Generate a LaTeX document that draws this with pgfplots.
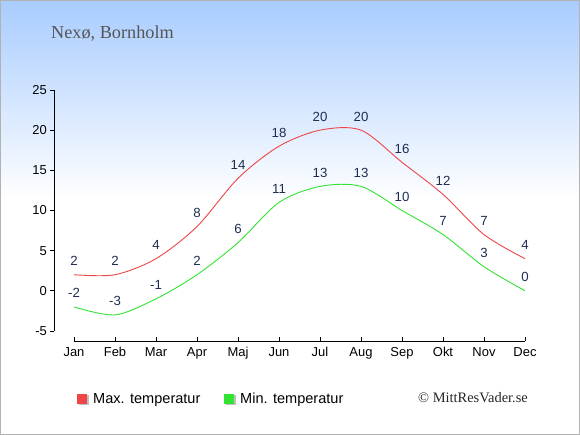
\documentclass[border=0pt]{standalone}
\usepackage{fontspec}
\setmainfont{Liberation Sans}
\newfontfamily\seriffont{Liberation Serif}
\usepackage{pgfplots}
\pgfplotsset{compat=1.18}
\definecolor{bgtop}{RGB}{168,204,255}
\definecolor{maxc}{RGB}{238,70,70}
\definecolor{minc}{RGB}{50,228,50}
\definecolor{lab}{RGB}{30,45,80}
\definecolor{titlec}{RGB}{85,85,85}
\pgfplotstableread{
m v
0 2
1 2
2 4
3 8
4 14
5 18
6 20
7 20
8 16
9 12
10 7
11 4
}\maxdata
\pgfplotstableread{
m v
0 -2
1 -3
2 -1
3 2
4 6
5 11
6 13
7 13
8 10
9 7
10 3
11 0
}\mindata
\begin{document}
\begin{tikzpicture}
\path[use as bounding box] (0bp,0bp) rectangle (580bp,435bp);
\shade[top color=bgtop, bottom color=white] (0bp,235bp) rectangle (580bp,435bp);
\fill[white] (0bp,0bp) rectangle (580bp,235bp);
\draw[black!30, line width=1bp] (0.5bp,0.5bp) rectangle (579.5bp,434.5bp);
\node[anchor=base west, font=\seriffont\fontsize{18.3}{20}\selectfont, text=titlec, inner sep=0] at (51bp,396bp) {Nexø, Bornholm};
\begin{axis}[
  at={(54bp,94bp)}, anchor=south west,
  scale only axis, width=471bp, height=251bp,
  xmin=-0.4878, xmax=11, ymin=-6.25, ymax=25,
  clip=false,
  axis x line*=bottom, axis y line*=left,
  x axis line style={draw=none}, y axis line style={draw=none},
  tick align=outside,
  major tick length=4bp,
  tick style={black, line width=0.8bp},
  x tick style={yshift=4bp},
  xtick={0,...,11},
  xticklabels={Jan,Feb,Mar,Apr,Maj,Jun,Jul,Aug,Sep,Okt,Nov,Dec},
  ytick={-5,0,5,10,15,20,25},
  /pgf/number format/assume math mode=true,
  ticklabel style={font=\fontsize{13}{15}\selectfont, text=black},
  yticklabel style={inner sep=3bp},
  xticklabel style={inner sep=2bp},
  nodes near coords,
  point meta=explicit,
  every node near coord/.append style={anchor=center, yshift=13.5bp, font=\fontsize{13.3}{15}\selectfont, text=lab},
]
\draw[black, line width=0.8bp] (axis cs:-0.4878,-5) -- (axis cs:-0.4878,25);
\draw[black, line width=0.8bp] (axis cs:0,-6.25) -- (axis cs:11,-6.25);
\addplot[maxc, line width=0.9bp, smooth, tension=0.5, no marks] table[x=m, y=v, meta=v] {\maxdata};
\addplot[minc, line width=0.9bp, smooth, tension=0.5, no marks] table[x=m, y=v, meta=v] {\mindata};
\end{axis}
% legend
\fill[black!25] (78.5bp,29.5bp) rectangle (88.5bp,39.5bp);
\fill[maxc] (77bp,31bp) rectangle (87bp,41bp);
\node[anchor=base west, inner sep=0, font=\fontsize{14.6}{16}\selectfont] at (93bp,31.5bp) {Max. temperatur};
\fill[black!25] (225.5bp,29.5bp) rectangle (235.5bp,39.5bp);
\fill[minc] (224bp,31bp) rectangle (234bp,41bp);
\node[anchor=base west, inner sep=0, font=\fontsize{14.6}{16}\selectfont] at (240bp,31.5bp) {Min. temperatur};
\node[anchor=base west, inner sep=0, font=\seriffont\fontsize{14.5}{16}\selectfont, text=black!85] at (418bp,33bp) {© MittResVader.se};
\end{tikzpicture}
\end{document}
